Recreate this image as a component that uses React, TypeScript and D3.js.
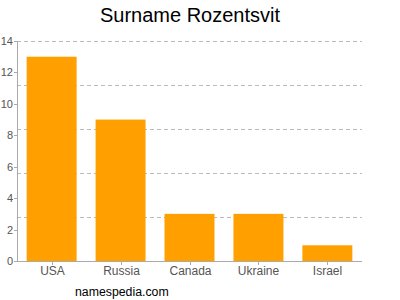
import React from "react";
import * as d3 from "d3";

const categories = ["USA", "Russia", "Canada", "Ukraine", "Israel"];
const values = [13, 9, 3, 3, 1];
const yTicks = [0, 2, 4, 6, 8, 10, 12, 14];
const gridValues = [2.8, 5.6, 8.4, 11.2, 14];
const title = "Surname Rozentsvit";
const footer = "namespedia.com";

export default function App() {
  const W = 400, H = 300;
  const left = 17, right = 362, top = 41, bottom = 261;
  const x = d3.scaleBand<string>().domain(categories).range([left, right]).paddingInner(0.275).paddingOuter(0.14);
  const y = d3.scaleLinear().domain([0, 14]).range([bottom, top]);
  const font = "'Liberation Sans', Arial, sans-serif";
  return (
    <svg width={W} height={H} style={{ position: "absolute", left: 0, top: 0 }} fontFamily={font}>
      <rect width={W} height={H} fill="#fff" />
      <text x={190} y={22} fontSize={20} textAnchor="middle" fill="#000">{title}</text>
      {gridValues.map((g) => (
        <line key={g} x1={left} x2={right} y1={Math.round(y(g)) + 0.5} y2={Math.round(y(g)) + 0.5} stroke="#bbb" strokeDasharray="4,3" />
      ))}
      {categories.map((c, i) => (
        <rect key={c} x={x(c)} y={y(values[i])} width={x.bandwidth()} height={bottom - y(values[i])} fill="#ffa000" />
      ))}
      <line x1={left + 0.5} x2={left + 0.5} y1={top} y2={bottom} stroke="#aaa" />
      <line x1={left} x2={right} y1={bottom + 0.5} y2={bottom + 0.5} stroke="#aaa" />
      {yTicks.map((t) => (
        <g key={t}>
          <line x1={left - 3} x2={left} y1={Math.round(y(t)) + 0.5} y2={Math.round(y(t)) + 0.5} stroke="#aaa" />
          <text x={left - 4} y={y(t) + 4} fontSize={11} textAnchor="end" fill="#555">{t}</text>
        </g>
      ))}
      {categories.map((c) => {
        const cx = Math.round(x(c)! + x.bandwidth() / 2) + 0.5;
        return (
          <g key={c}>
            <line x1={cx} x2={cx} y1={bottom} y2={bottom + 4} stroke="#aaa" />
            <text x={cx} y={bottom + 14} fontSize={12} textAnchor="middle" fill="#555">{c}</text>
          </g>
        );
      })}
      <text x={75} y={296} fontSize={12.3} fill="#000">{footer}</text>
    </svg>
  );
}
